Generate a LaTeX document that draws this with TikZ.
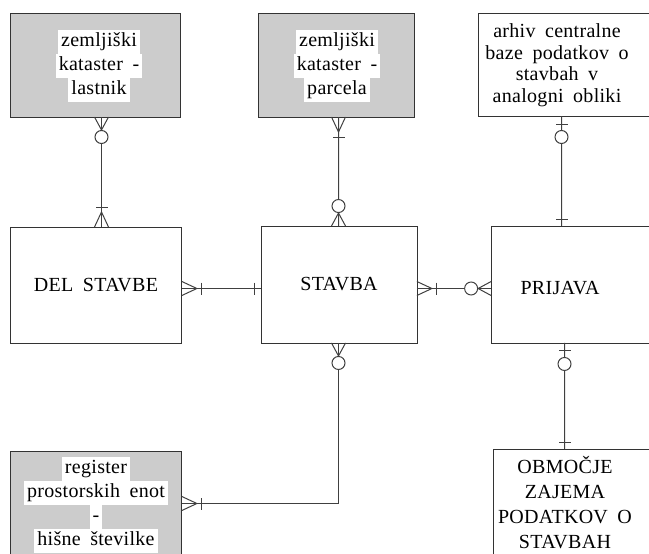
\documentclass[tikz,border=0pt]{standalone}
\usepackage{fontspec}
\setmainfont{Liberation Serif}[LetterSpace=1.5,WordSpace=1.8]
\usetikzlibrary{
  decorations.markings, % Ends of the relationship lines
}
\setlength{\fboxsep}{0pt}
\newcommand{\wl}[1]{\colorbox{white}{\strut\hspace{3bp}#1\hspace{3bp}}}
% ends of a relationship, x points away from the entity
\newcommand{\crowbar} {\draw (0,-7) -- (15,0) -- (0,7); \draw (20,-6) -- (20,6);}
\newcommand{\crowcirc}{\draw (0,-7) -- (13,0) -- (0,7); \draw[fill=white] (20,0) circle[radius=6.5];}
\newcommand{\barcirc} {\draw (8,-6) -- (8,6); \draw[fill=white] (21,0) circle[radius=6.5];}
\newcommand{\onebar}  {\draw (7,-6) -- (7,6);}
\tikzset{
  line width=0.8bp,
  my entity/.style={
    draw=black!80,
    rectangle,
    inner sep=0pt,
    align=center
  },
  my shaded/.style={
    my entity,
    fill=black!20
  },
  my text/.style={
    align=center,
    inner sep=0pt
  },
  my rel/.style 2 args={
    black!75,
    line width=1bp,
    postaction={decorate,decoration={markings,
      mark=at position 0 with {#1},
      mark=at position 1 with {\begin{scope}[xscale=-1]#2\end{scope}}}}
  }
}
\begin{document}
\begin{tikzpicture}[x=1bp,y=-1bp,font=\fontsize{20bp}{24bp}\selectfont]
\useasboundingbox (0,0) rectangle (649,554);
\clip (0,0) rectangle (649,554);
% entities
\node[my shaded, minimum width=171, minimum height=104] (zkl) at (95.5,65) {};
\node[my shaded, minimum width=156, minimum height=104] (zkp) at (336,65) {};
\node[my entity, minimum width=182, minimum height=103] (arh) at (569,64.5) {};
\node[my entity, minimum width=172, minimum height=116] (del) at (96,285) {DEL STAVBE};
\node[my entity, minimum width=156, minimum height=117] (stb) at (339,284.5) {STAVBA};
\node[my entity, minimum width=169, minimum height=117] (prj) at (575.5,284.5) {};
\node[my shaded, minimum width=172, minimum height=104] (reg) at (96,503) {};
\node[my entity, minimum width=167, minimum height=121] (obm) at (576.5,509.5) {};
% texts
\node[my text] (zkl-t) at (99,65.7) {\wl{zemljiški}\\\wl{kataster -}\\\wl{lastnik}};
\node[my text] (zkp-t) at (337,66) {\wl{zemljiški}\\\wl{kataster -}\\\wl{parcela}};
\node[my text, font=\fontsize{20bp}{21.5bp}\selectfont] (arh-t) at (557,65)
  {arhiv centralne\\baze podatkov o\\stavbah v\\analogni obliki};
\node[my text] (prj-t) at (560,288) {PRIJAVA};
\node[my text] (reg-t) at (96,504.5)
  {\wl{register}\\\wl{prostorskih enot}\\\wl{-}\\\wl{hišne številke}};
\node[my text, font=\fontsize{20bp}{25bp}\selectfont] (obm-t) at (565,502.5)
  {OBMOČJE\\ZAJEMA\\PODATKOV O\\STAVBAH};
% relationships
\draw[my rel={\crowcirc}{\crowbar}] ([xshift=6bp]zkl.south) -- ([xshift=5.5bp]del.north);
\draw[my rel={\crowbar}{\crowcirc}] ([xshift=2.5bp]zkp.south) -- ([xshift=-0.5bp]stb.north);
\draw[my rel={\barcirc}{\onebar}] ([xshift=-7.5bp]arh.south) -- ([xshift=-14bp]prj.north);
\draw[my rel={\crowbar}{\onebar}] ([yshift=-3.5bp]del.east) -- ([yshift=-4bp]stb.west);
\draw[my rel={\crowbar}{\crowcirc}] ([yshift=-4bp]stb.east) -- ([yshift=-4bp]prj.west);
\draw[my rel={\crowcirc}{\crowbar}] ([xshift=-0.5bp]stb.south) |- ([yshift=-0.5bp]reg.east);
\draw[my rel={\barcirc}{\onebar}] ([xshift=-11bp]prj.south) -- ([xshift=-12bp]obm.north);
\end{tikzpicture}
\end{document}
